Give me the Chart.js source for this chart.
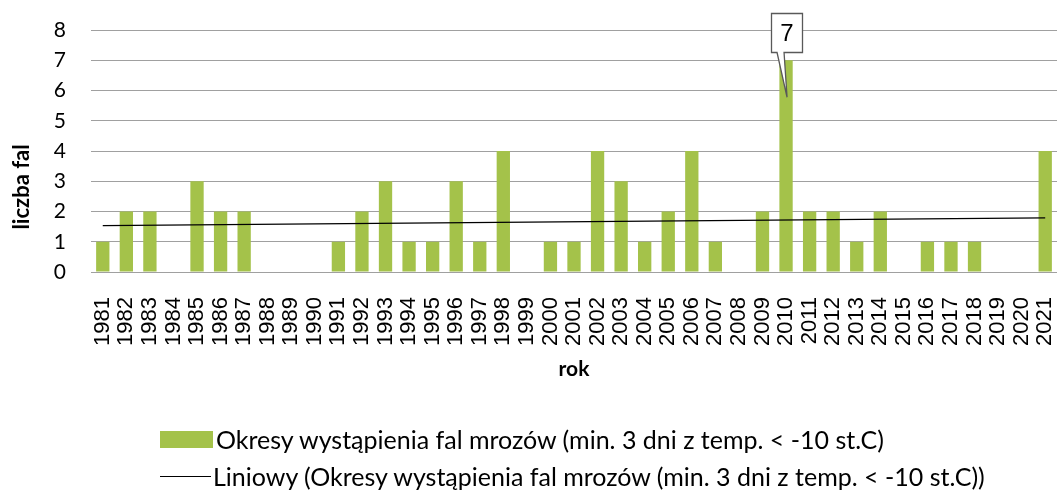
<!DOCTYPE html>
<html><head><meta charset="utf-8">
<script src="https://cdn.jsdelivr.net/npm/chart.js@4/dist/chart.umd.min.js"></script>
<style>
html,body{margin:0;padding:0;background:#fff;}
#wrap{position:relative;width:1057px;height:490px;overflow:hidden;}
canvas{position:absolute;left:0;top:0;}
.leg{position:absolute;font-family:Lato,"Open Sans",sans-serif;font-size:25px;color:#000;white-space:nowrap;line-height:30px;}
.sw{position:absolute;}
</style></head><body>
<div id="wrap">
<canvas id="c" width="1057" height="490"></canvas>
<div class="sw" style="left:160px;top:431px;width:53px;height:17px;background:#A4C24A"></div>
<div class="leg" id="l1" style="left:216px;top:424px">Okresy wystąpienia fal mrozów (min. 3 dni z temp. &lt; -10 st.C)</div>
<div class="sw" style="left:160px;top:476px;width:51px;height:1px;background:#000"></div>
<div class="leg" id="l2" style="left:213px;top:461px">Liniowy (Okresy wystąpienia fal mrozów (min. 3 dni z temp. &lt; -10 st.C))</div>
</div>
<script>
const years = ["1981","1982","1983","1984","1985","1986","1987","1988","1989","1990","1991","1992","1993","1994","1995","1996","1997","1998","1999","2000","2001","2002","2003","2004","2005","2006","2007","2008","2009","2010","2011","2012","2013","2014","2015","2016","2017","2018","2019","2020","2021"];
const values = [1,2,2,0,3,2,2,0,0,0,1,2,3,1,1,3,1,4,0,1,1,4,3,1,2,4,1,0,2,7,2,2,1,2,0,1,1,1,0,0,4];
const trendStart = 1.53;
const trendEnd = 1.79;
const yTickMin = 0, yTickMax = 8, yTickStep = 1;
const calloutYear = "2010";
const seriesName = "Okresy wystąpienia fal mrozów (min. 3 dni z temp. < -10 st.C)";
const yTitle = "liczba fal";
const xTitle = "rok";

const trendData = years.map((y,i)=> i===0 ? trendStart : (i===years.length-1 ? trendEnd : null));
const BAR = '#A4C24A';

const yTitlePlugin = {
  id:'yTitle',
  afterDraw(chart){
    const ctx = chart.ctx, a = chart.chartArea;
    ctx.save();
    ctx.translate(22, (a.top+a.bottom)/2 + 36);
    ctx.rotate(-Math.PI/2);
    ctx.font = 'bold 22px Lato';
    ctx.fillStyle = '#000';
    ctx.textAlign = 'center';
    ctx.textBaseline = 'middle';
    ctx.fillText(yTitle, 0, 0);
    ctx.restore();
  }
};

const calloutPlugin = {
  id:'callout',
  afterDatasetsDraw(chart){
    const idx = years.indexOf(calloutYear);
    const v = values[idx];
    const xs = chart.scales.x, ys = chart.scales.y;
    const x = xs.getPixelForValue(idx);
    const yTop = ys.getPixelForValue(v);
    const ctx = chart.ctx;
    const bw = 31, bh = 39;
    const left = Math.round(x - 15) + 0.5, top = Math.round(yTop - 47) + 0.5;
    const bottom = top + bh;
    ctx.save();
    ctx.beginPath();
    ctx.moveTo(left, top);
    ctx.lineTo(left+bw, top);
    ctx.lineTo(left+bw, bottom);
    ctx.lineTo(x - 2, bottom);
    ctx.lineTo(x + 1, yTop + 37);
    ctx.lineTo(x - 9, bottom);
    ctx.lineTo(left, bottom);
    ctx.closePath();
    ctx.fillStyle = '#fff';
    ctx.fill();
    ctx.strokeStyle = '#595959';
    ctx.lineWidth = 1.3;
    ctx.stroke();
    ctx.font = '24px "Liberation Sans"';
    ctx.fillStyle = '#000';
    ctx.textAlign = 'center';
    ctx.textBaseline = 'middle';
    ctx.fillText(String(v), left + bw/2, top + bh/2 + 1);
    ctx.restore();
  }
};

new Chart(document.getElementById('c'), {
  type:'bar',
  data:{
    labels: years,
    datasets:[
      {type:'line', label:'Liniowy ('+seriesName+')', data: trendData, borderColor:'#000', borderWidth:1.3, pointRadius:0, spanGaps:true, order:0, tension:0},
      {type:'bar', label: seriesName, data: values, backgroundColor: BAR, borderWidth:0, barPercentage:0.565, categoryPercentage:1, order:1}
    ]
  },
  options:{
    responsive:false,
    animation:false,
    layout:{padding:{left:0,right:0,top:30,bottom:100}},
    plugins:{legend:{display:false}, tooltip:{enabled:false}},
    scales:{
      x:{
        grid:{display:false},
        border:{display:false},
        ticks:{autoSkip:false, maxRotation:90, minRotation:90, padding:17, color:'#000', font:{family:'"Liberation Sans"', size:22}},
        title:{display:true, text:xTitle, color:'#000', font:{family:'Lato', size:21, weight:'bold'}, padding:{top:0,bottom:8}},
        afterFit(s){ s.height = 118; s.paddingLeft = 0; s.paddingRight = 0; }
      },
      y:{
        min:yTickMin, max:yTickMax,
        grid:{color:'#A0A0A0', lineWidth:1, drawTicks:false},
        border:{display:false},
        ticks:{stepSize:yTickStep, padding:25, color:'#000', font:{family:'Lato', size:21}},
        afterFit(s){ s.width = 91; s.paddingTop = 0; s.paddingBottom = 0; }
      }
    }
  },
  plugins:[yTitlePlugin, calloutPlugin]
});
</script>
</body></html>
